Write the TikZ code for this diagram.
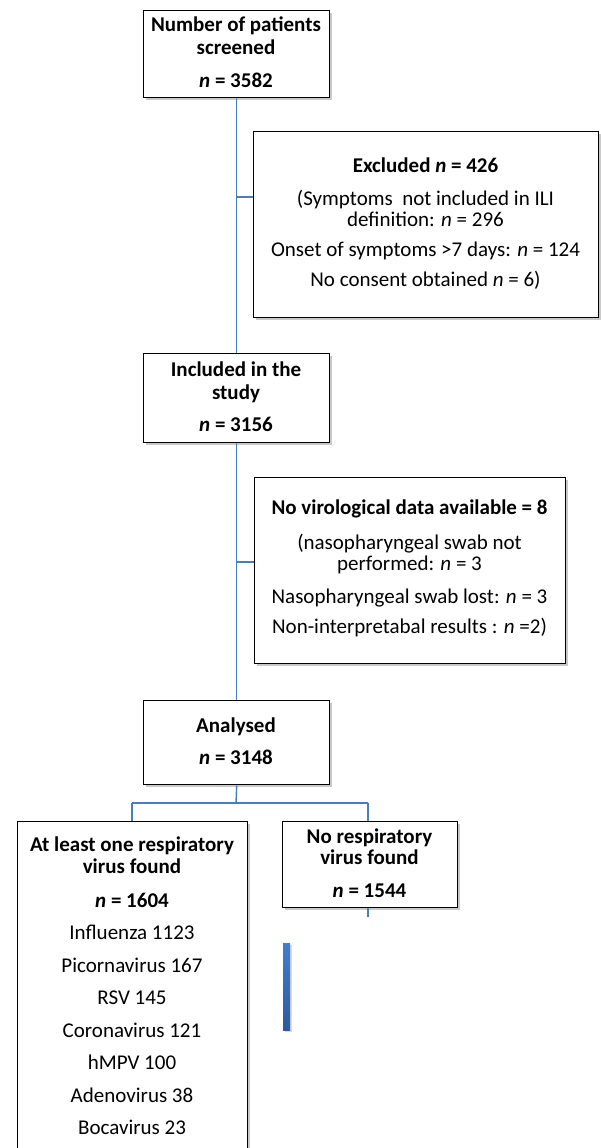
\documentclass[tikz,border=0pt]{standalone}
\usepackage{fontspec}
\setmainfont{Carlito}
\usetikzlibrary{shadows}
\definecolor{conn}{HTML}{4A7EBB}
\definecolor{bartop}{HTML}{3F7FD0}
\definecolor{barbot}{HTML}{2C5A9E}
\tikzset{
  box/.style={draw=black, line width=1.4pt, fill=white, anchor=north west, inner sep=0pt,
    drop shadow={shadow xshift=2pt, shadow yshift=-2.5pt, opacity=0.35, fill=black!60}},
  txt/.style={anchor=base, inner sep=0pt, font=\fontsize{21}{25}\selectfont},
  conline/.style={draw=conn, line width=1.4pt}
}
\begin{document}
\begin{tikzpicture}[x=1pt,y=-1pt]
\useasboundingbox[fill=white] (0,0) rectangle (600,1148);
% boxes
\node[box, minimum width=186pt, minimum height=87pt] (b1) at (143,10) {};
\node[box, minimum width=345pt, minimum height=186pt] (ex) at (253,131) {};
\node[box, minimum width=186pt, minimum height=89pt] (b2) at (143,353) {};
\node[box, minimum width=311pt, minimum height=186pt] (nv) at (254,477) {};
\node[box, minimum width=186pt, minimum height=84pt] (b3) at (143,700) {};
\node[box, minimum width=230pt, minimum height=360pt] (lb) at (17,821) {};
\node[box, minimum width=175pt, minimum height=86pt] (rb) at (282,821) {};
% texts
\node[txt] (b1a) at (236,32) {\bfseries Number of patients};
\node[txt] (b1b) at (236,55) {\bfseries screened};
\node[txt] (b1c) at (236,88) {\bfseries\itshape n\upshape\ = 3582};

\node[txt] (exa) at (425.5,172) {\bfseries Excluded \itshape n\upshape\ = 426};
\node[txt] (exb) at (425.5,205) {(Symptoms~ not included in ILI};
\node[txt] (exc) at (425.5,226) {definition: \textit{n} = 296};
\node[txt] (exd) at (425.5,256) {Onset of symptoms >7 days: \textit{n} = 124};
\node[txt] (exe) at (425.5,286) {No consent obtained \textit{n} = 6)};

\node[txt] (b2a) at (236,376) {\bfseries Included in the};
\node[txt] (b2b) at (236,399) {\bfseries study};
\node[txt] (b2c) at (236,431) {\bfseries\itshape n\upshape\ = 3156};

\node[txt] (nva) at (409.5,514) {\bfseries No virological data available = 8};
\node[txt] (nvb) at (409.5,549) {(nasopharyngeal swab not};
\node[txt] (nvc) at (409.5,570) {performed: \textit{n} = 3};
\node[txt] (nvd) at (409.5,603) {Nasopharyngeal swab lost: \textit{n} = 3};
\node[txt] (nve) at (409.5,633) {Non-interpretabal results : \textit{n} =2)};

\node[txt] (b3a) at (236,732) {\bfseries Analysed};
\node[txt] (b3b) at (236,764) {\bfseries\itshape n\upshape\ = 3148};

\node[txt] (lba) at (132,851) {\bfseries At least one respiratory};
\node[txt] (lbb) at (132,873) {\bfseries virus found};
\node[txt] (lbc) at (132,907) {\bfseries\itshape n\upshape\ = 1604};
\node[txt] (lbd) at (132,939) {Influenza 1123};
\node[txt] (lbe) at (132,972) {Picornavirus 167};
\node[txt] (lbf) at (132,1004) {RSV 145};
\node[txt] (lbg) at (132,1037) {Coronavirus 121};
\node[txt] (lbh) at (132,1069) {hMPV 100};
\node[txt] (lbi) at (132,1102) {Adenovirus 38};
\node[txt] (lbj) at (132,1134) {Bocavirus 23};

\node[txt] (rba) at (369.5,843) {\bfseries No respiratory};
\node[txt] (rbb) at (369.5,864) {\bfseries virus found};
\node[txt] (rbc) at (369.5,897) {\bfseries\itshape n\upshape\ = 1544};

% blue bar
\node[anchor=north west, inner sep=0pt, minimum width=7pt, minimum height=87pt,
  top color=bartop, bottom color=barbot,
  drop shadow={shadow xshift=1.5pt, shadow yshift=-2pt, opacity=0.3, fill=black!50}] (bar) at (283,943) {};

% connectors
\coordinate (j1) at (236,197);
\coordinate (j2) at (236,562);
\coordinate (bus) at (236,803);
\coordinate (busl) at (132,803);
\coordinate (busr) at (368,803);
\coordinate (tail) at (368,917);
\draw[conline] (b1.south) -- (b2.north);
\draw[conline] (j1) -- (j1 -| ex.west);
\draw[conline] (b2.south) -- (b3.north);
\draw[conline] (j2) -- (j2 -| nv.west);
\draw[conline] (b3.south) -- (bus);
\draw[conline] (busl) -- (busr);
\draw[conline] (busl) -- (busl |- lb.north);
\draw[conline] (busr) -- (busr |- rb.north);
\draw[conline] (rb.south -| tail) -- (tail);
\end{tikzpicture}
\end{document}
